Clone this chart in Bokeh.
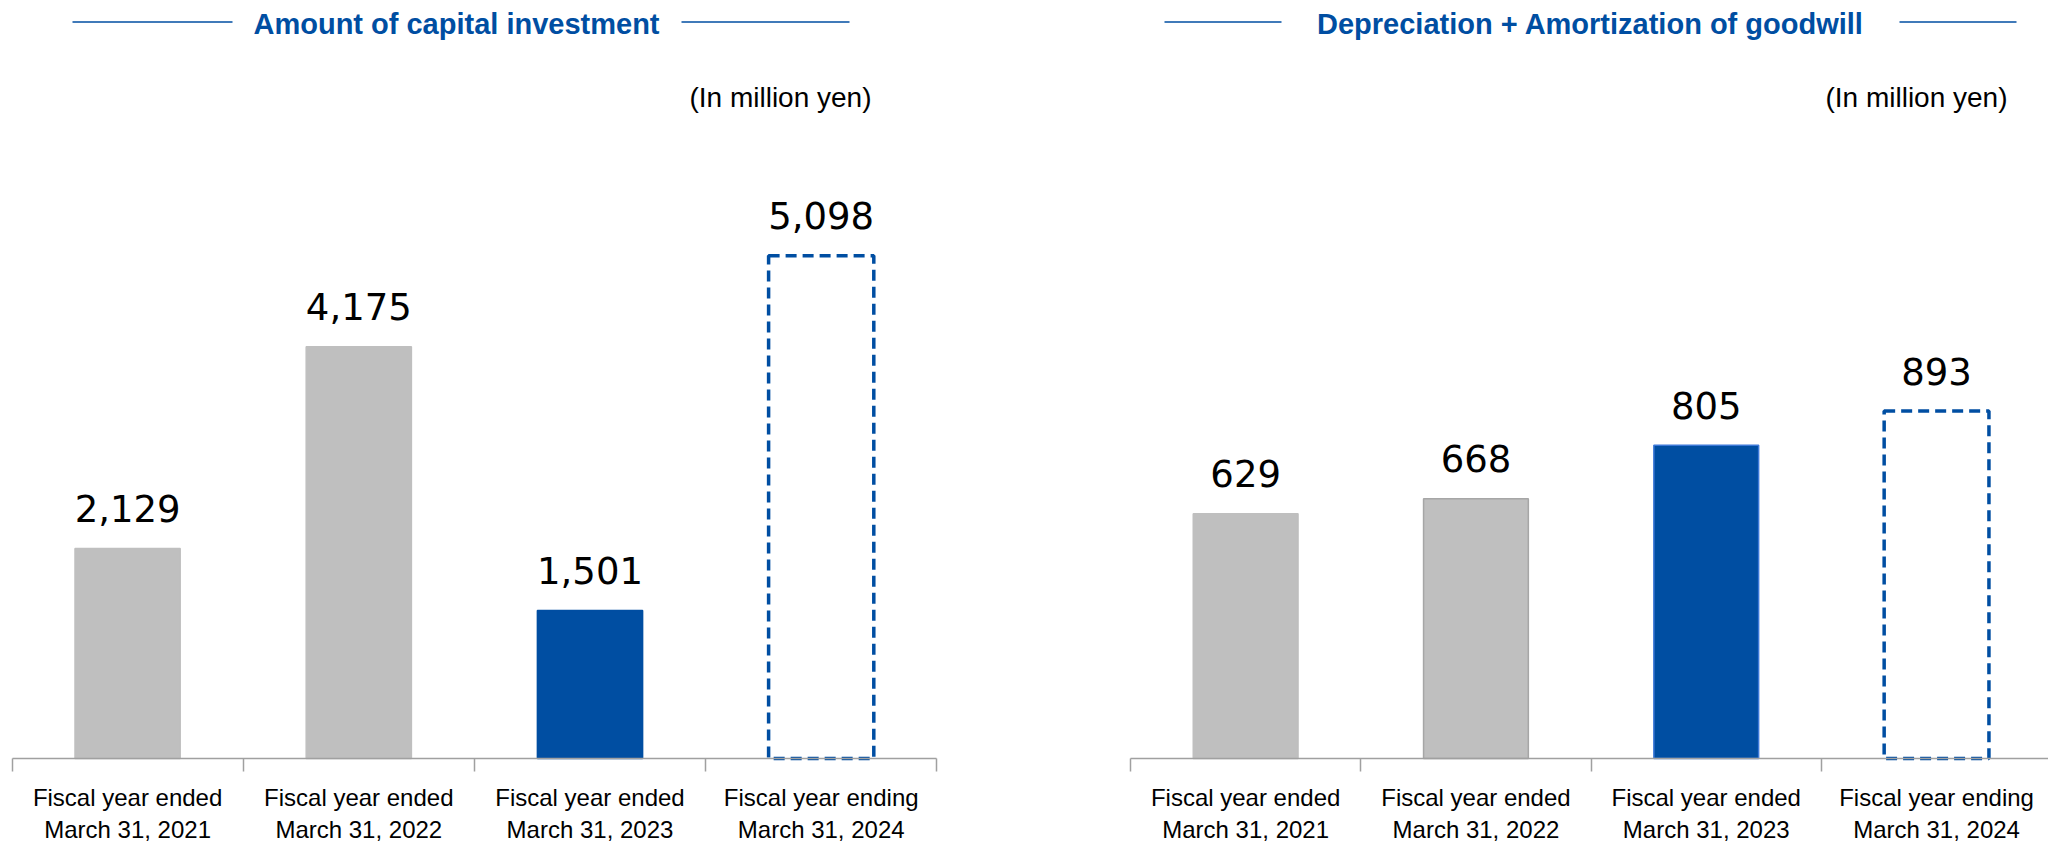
from bokeh.plotting import figure
from bokeh.layouts import row
from bokeh.models import ColumnDataSource, Range1d, LinearAxis, FixedTicker
from bokeh.core.properties import value
from bokeh.embed import file_html
from bokeh.resources import INLINE

# ---------------- data ----------------
categories = [
    "Fiscal year ended\nMarch 31, 2021",
    "Fiscal year ended\nMarch 31, 2022",
    "Fiscal year ended\nMarch 31, 2023",
    "Fiscal year ending\nMarch 31, 2024",
]
capex_values = [2129, 4175, 1501, 5098]
dep_values = [629, 668, 805, 893]
is_forecast = [False, False, False, True]
left_title = "Amount of capital investment"
right_title = "Depreciation + Amortization of goodwill"
unit_label = "(In million yen)"

# ---------------- style ----------------
BLUE = "#004EA2"
GRAY = "#BFBFBF"
AXIS_GRAY = "#A0A0A0"
left_fill = [GRAY, GRAY, BLUE, None]
left_line = [GRAY, GRAY, BLUE, BLUE]
right_fill = [GRAY, GRAY, BLUE, None]
right_line = [GRAY, "#A6A6A6", "#3C78D8", BLUE]

FIG_H = 845
BASE_PY = 758  # page y of the baseline


def make_chart(values, fills, lines, title, fig_left, width, x0_page, cat_px, ppu,
               title_center, deco_lines, unit_right):
    def px_to_x(px):
        return (px - x0_page) / cat_px

    def py_to_y(py):
        return (BASE_PY - py) / ppu

    x_start = px_to_x(fig_left)
    x_end = px_to_x(fig_left + width)

    p = figure(width=width, height=FIG_H,
               x_range=Range1d(x_start, x_end),
               y_range=Range1d(py_to_y(FIG_H), py_to_y(0)),
               output_backend="svg", toolbar_location=None,
               x_axis_location=None, y_axis_location=None,
               min_border_left=0, min_border_right=0, min_border_top=0,
               min_border_bottom=0,
               outline_line_color=None, background_fill_color="white",
               border_fill_color="white")
    p.grid.grid_line_color = None

    n = len(categories)
    xs = [i + 0.5 for i in range(n)]
    labels = [f"{v:,}" for v in values]

    act = [i for i in range(n) if not is_forecast[i]]
    fc = [i for i in range(n) if is_forecast[i]]
    act_src = ColumnDataSource(dict(
        x=[xs[i] for i in act], top=[values[i] for i in act],
        fill=[fills[i] for i in act], line=[lines[i] for i in act]))
    fc_src = ColumnDataSource(dict(
        x=[xs[i] for i in fc], top=[values[i] for i in fc]))
    lab_src = ColumnDataSource(dict(x=xs, top=values, label=labels))

    xaxis = LinearAxis(
        fixed_location=0,
        bounds=(0, n),
        ticker=FixedTicker(ticks=xs, minor_ticks=list(range(n + 1))),
        major_label_overrides={xs[i]: categories[i] for i in range(n)},
        axis_line_color=AXIS_GRAY, axis_line_width=1.5,
        major_tick_out=0, major_tick_in=0,
        minor_tick_out=13, minor_tick_in=0,
        minor_tick_line_color=AXIS_GRAY, minor_tick_line_width=1.5,
        major_label_standoff=12,
        major_label_text_font="Liberation Sans",
        major_label_text_font_size="24px",
        major_label_text_color="black",
        major_label_text_line_height=1.2,
    )
    p.add_layout(xaxis, "below")

    p.vbar(x="x", top="top", bottom=0, width=0.455, source=act_src,
           fill_color="fill", line_color="line", line_width=1.5)
    p.vbar(x="x", top="top", bottom=0, width=0.455, source=fc_src,
           fill_color=None, line_color=BLUE, line_width=3.5, line_dash="11 6")

    p.text(x="x", y="top", text="label", source=lab_src,
           text_font=value("DejaVu Sans"), text_font_size="37px",
           text_align="center", text_baseline="middle", y_offset=-40,
           text_color="black")

    # title with decorative lines
    p.text(x=[px_to_x(title_center)], y=[py_to_y(23)], text=[title],
           text_font=value("Liberation Sans"), text_font_size="29px",
           text_font_style="bold", text_color=BLUE,
           text_align="center", text_baseline="middle")
    p.segment(x0=[px_to_x(a) for a, b in deco_lines],
              x1=[px_to_x(b) for a, b in deco_lines],
              y0=[py_to_y(21.5)] * len(deco_lines),
              y1=[py_to_y(21.5)] * len(deco_lines),
              line_color=BLUE, line_width=1.5)

    # unit label
    p.text(x=[px_to_x(unit_right)], y=[py_to_y(97)], text=[unit_label],
           text_font=value("Liberation Sans"), text_font_size="28px",
           text_color="black", text_align="right", text_baseline="middle")
    return p


p1 = make_chart(capex_values, left_fill, left_line, left_title,
                fig_left=0, width=1040, x0_page=11.5, cat_px=231.2, ppu=0.0986,
                title_center=456, deco_lines=[(72, 232), (681, 849)],
                unit_right=871)
p2 = make_chart(dep_values, right_fill, right_line, right_title,
                fig_left=1040, width=1008, x0_page=1130, cat_px=230.3, ppu=0.389,
                title_center=1590, deco_lines=[(1164, 1281), (1899, 2016)],
                unit_right=2007)

layout = row(p1, p2)
open("out.html", "w").write(file_html(layout, INLINE))
